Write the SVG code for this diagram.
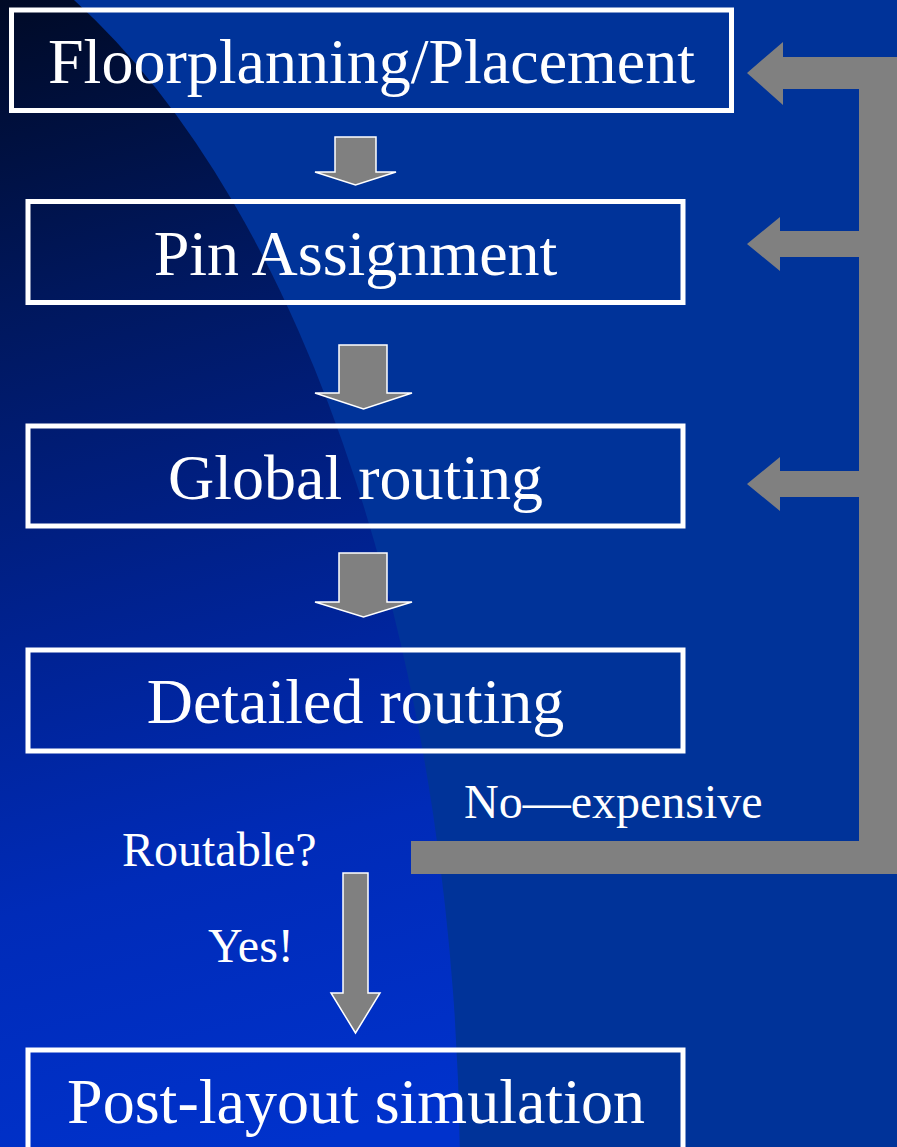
<svg xmlns="http://www.w3.org/2000/svg" width="897" height="1147" viewBox="0 0 897 1147">
  <style>
    .box { fill: none; stroke: #ffffff; stroke-width: 5; }
    .big { font-family: "Liberation Serif", "Times New Roman", serif; font-size: 64px; fill: #ffffff; text-anchor: middle; }
    .lbl { font-family: "Liberation Serif", "Times New Roman", serif; font-size: 48px; fill: #ffffff; }
    .down { fill: #808080; stroke: #ffffff; stroke-width: 1.5; stroke-linejoin: miter; }
    .fb { fill: #808080; stroke: none; }
  </style>
  <defs>
    <linearGradient id="leftGrad" gradientUnits="userSpaceOnUse" x1="0" y1="0" x2="300" y2="1147">
      <stop offset="0" stop-color="#000a26"/>
      <stop offset="0.25" stop-color="#00175c"/>
      <stop offset="0.5" stop-color="#00218c"/>
      <stop offset="0.75" stop-color="#002bb8"/>
      <stop offset="1" stop-color="#0032cc"/>
    </linearGradient>
  </defs>

  <g id="background">
    <rect x="0" y="0" width="897" height="1147" fill="#003399"/>
    <path d="M0,0 L74,0 A665,1300 0 0 1 460,1180 L0,1180 Z" fill="url(#leftGrad)"/>
  </g>

  <g id="connectors">
    <polygon class="down" points="335,137 376,137 376,172 396,172 355.5,185 315,172 335,172"/>
    <polygon class="down" points="339,345 387,345 387,393 412,393 363.5,409 315,393 339,393"/>
    <polygon class="down" points="339,553 387,553 387,602 412,602 363.5,617 315,602 339,602"/>
    <polygon class="down" points="343,873 368,873 368,993 380,993 355.5,1033 331,993 343,993"/>
    <polygon class="fb" points="859,57 897,57 897,874 411,874 411,841 859,841 859,497 780,497 780,511 747,484 780,457 780,471 859,471 859,257 780,257 780,271 747,244 780,217 780,231 859,231 859,89 783,89 783,105 747,73 783,42 783,57"/>
  </g>

  <g id="node-floorplanning">
    <rect class="box" x="11.5" y="10" width="720" height="100.5"/>
    <text class="big" x="371.5" y="83">Floorplanning/Placement</text>
  </g>
  <g id="node-pin">
    <rect class="box" x="28" y="201.5" width="655" height="101"/>
    <text class="big" x="355.5" y="275">Pin Assignment</text>
  </g>
  <g id="node-global">
    <rect class="box" x="28" y="426" width="655" height="100"/>
    <text class="big" x="355.5" y="499">Global routing</text>
  </g>
  <g id="node-detailed">
    <rect class="box" x="28" y="650" width="655" height="101"/>
    <text class="big" x="355.5" y="723">Detailed routing</text>
  </g>
  <g id="node-post">
    <rect class="box" x="28" y="1050" width="655" height="120"/>
    <text class="big" x="356" y="1123">Post-layout simulation</text>
  </g>

  <g id="labels">
    <text class="lbl" x="464" y="818">No—expensive</text>
    <text class="lbl" x="122" y="866">Routable?</text>
    <text class="lbl" x="208" y="962">Yes!</text>
  </g>
</svg>
